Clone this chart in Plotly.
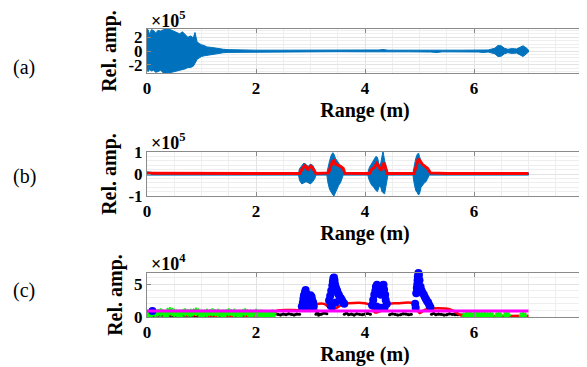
import plotly.graph_objects as go

# ---------------- data ----------------
# (a) raw signal envelope (x 1e5)
xa = [0.0, 0.02, 0.05, 0.08, 0.12, 0.16, 0.2, 0.25, 0.3, 0.35, 0.4, 0.45, 0.5, 0.55, 0.6, 0.65,
      0.7, 0.75, 0.8, 0.85, 0.88, 0.92, 0.96, 1.0, 1.05, 1.1, 1.2, 1.3, 1.4, 1.5, 1.7, 2.0, 2.5,
      3.0, 3.5, 4.0, 4.25, 4.33, 4.42, 4.8, 5.2, 5.32, 5.42, 5.8, 6.08, 6.17, 6.26, 6.38, 6.44,
      6.5, 6.56, 6.62, 6.7, 6.78, 6.84, 6.9, 6.96, 7.0]
a_up = [3.2, 3.1, 2.4, 3.1, 3.0, 2.6, 3.0, 2.9, 3.1, 3.3, 3.2, 3.0, 2.9, 2.7, 2.5, 2.8,
        2.4, 2.0, 2.2, 1.9, 2.7, 1.3, 1.1, 0.9, 0.8, 0.6, 0.5, 0.35, 0.25, 0.2, 0.15, 0.12, 0.12,
        0.1, 0.1, 0.12, 0.15, 0.22, 0.12, 0.12, 0.15, 0.22, 0.12, 0.12, 0.15, 0.22, 0.15, 0.4, 0.8,
        0.75, 0.4, 0.25, 0.35, 0.3, 0.55, 0.75, 0.45, 0.15]
a_lo = [-2.6, -3.0, -2.7, -2.9, -2.8, -3.1, -3.0, -2.8, -3.2, -3.3, -3.3, -3.1, -3.0, -2.9, -2.9, -2.7,
        -2.6, -2.4, -2.4, -2.2, -1.8, -1.2, -1.0, -0.8, -0.7, -0.6, -0.45, -0.35, -0.25, -0.2, -0.15, -0.12, -0.12,
        -0.1, -0.1, -0.12, -0.15, -0.22, -0.12, -0.12, -0.15, -0.22, -0.12, -0.12, -0.15, -0.22, -0.15, -0.4, -0.8,
        -0.75, -0.4, -0.25, -0.35, -0.3, -0.55, -0.8, -0.45, -0.15]

# (b) filtered signal envelope (x 1e5) and its smoothed magnitude (red)
xb = [0.0, 0.1, 0.3, 0.5, 0.8, 1.0, 1.3, 1.6, 2.0, 2.4, 2.78,
      2.8, 2.84, 2.88, 2.92, 2.96, 3.0, 3.04, 3.08, 3.1,
      3.3, 3.32, 3.35, 3.38, 3.41, 3.43, 3.46, 3.49, 3.52, 3.55, 3.58, 3.6,
      4.05, 4.08, 4.12, 4.16, 4.2, 4.23, 4.26, 4.29, 4.31, 4.33, 4.36, 4.39, 4.42,
      4.88, 4.9, 4.93, 4.96, 4.98, 5.0, 5.03, 5.06, 5.09, 5.12, 5.15, 5.18,
      5.5, 6.0, 6.5, 7.0]
b_up = [0.1, 0.07, 0.06, 0.07, 0.06, 0.07, 0.06, 0.06, 0.06, 0.05, 0.05,
        0.25, 0.4, 0.5, 0.42, 0.35, 0.45, 0.4, 0.2, 0.05,
        0.05, 0.3, 0.6, 0.85, 0.97, 0.9, 0.7, 0.6, 0.5, 0.4, 0.25, 0.05,
        0.05, 0.3, 0.45, 0.6, 0.8, 0.75, 0.4, 0.5, 0.8, 1.05, 0.6, 0.3, 0.05,
        0.05, 0.4, 0.7, 0.9, 0.95, 0.8, 0.55, 0.45, 0.4, 0.35, 0.2, 0.05,
        0.05, 0.05, 0.05, 0.05]
b_lo = [-0.05, -0.06, -0.05, -0.06, -0.05, -0.06, -0.05, -0.05, -0.05, -0.05, -0.05,
        -0.3, -0.45, -0.4, -0.35, -0.4, -0.45, -0.35, -0.2, -0.05,
        -0.05, -0.4, -0.7, -0.85, -0.95, -1.0, -0.8, -0.65, -0.5, -0.4, -0.2, -0.05,
        -0.05, -0.3, -0.5, -0.6, -0.75, -0.8, -0.55, -0.6, -0.8, -0.85, -0.9, -0.4, -0.05,
        -0.05, -0.4, -0.75, -0.85, -0.95, -0.9, -0.6, -0.5, -0.4, -0.35, -0.2, -0.05,
        -0.05, -0.05, -0.05, -0.05]
xr = [0.0, 0.5, 1.0, 1.5, 2.0, 2.5, 2.8, 2.85, 2.9, 2.95, 3.0, 3.03, 3.07, 3.1,
      3.33, 3.37, 3.4, 3.43, 3.46, 3.5, 3.55, 3.6, 3.63,
      4.08, 4.12, 4.17, 4.22, 4.26, 4.29, 4.32, 4.35, 4.38, 4.41,
      4.9, 4.94, 4.98, 5.01, 5.05, 5.1, 5.15, 5.2, 5.5, 6.0, 6.5, 7.0]
b_red = [0.03, 0.02, 0.03, 0.02, 0.02, 0.02, 0.02, 0.25, 0.38, 0.2, 0.35, 0.3, 0.1, 0.02,
         0.05, 0.35, 0.55, 0.6, 0.45, 0.4, 0.35, 0.25, 0.03,
         0.02, 0.2, 0.3, 0.48, 0.3, 0.15, 0.35, 0.5, 0.25, 0.02,
         0.02, 0.4, 0.7, 0.6, 0.45, 0.35, 0.25, 0.05, 0.02, 0.02, 0.02, 0.02]

# (c) detection (x 1e4)
xc_thr = [0.0, 2.3, 2.4, 2.9, 3.0, 3.1, 3.25, 3.35, 3.42, 3.5, 3.6, 3.7, 4.0, 4.1, 4.18, 4.25,
          4.35, 4.45, 4.6, 4.88, 4.94, 5.0, 5.06, 5.13, 5.55, 5.65, 5.75, 5.85, 7.0]
c_thr = [0.5, 0.5, 1.0, 1.05, 1.3, 1.9, 2.0, 1.4, 1.2, 1.5, 2.0, 2.1, 2.1, 1.8, 0.7, 0.8,
         1.2, 2.0, 2.1, 2.1, 1.5, 0.6, 0.9, 1.2, 1.2, 0.8, 0.3, 0.2, 0.2]
xc_det = [0.1,
          2.84, 2.86, 2.87, 2.88, 2.9, 2.91, 2.92, 2.94, 2.95, 2.97, 2.98, 3.0, 3.02, 3.03, 3.05, 3.06, 2.89, 2.93, 2.99, 3.04,
          3.34, 3.36, 3.38, 3.4, 3.41, 3.42, 3.43, 3.44, 3.45, 3.47, 3.49, 3.5, 3.52, 3.54, 3.56, 3.58, 3.6, 3.62, 3.37, 3.46, 3.39,
          4.13, 4.15, 4.17, 4.19, 4.2, 4.22, 4.23, 4.25, 4.27, 4.29, 4.3, 4.32, 4.34, 4.35, 4.37, 4.38, 4.4, 4.21, 4.28, 4.36,
          4.92, 4.94, 4.95, 4.96, 4.965, 4.97, 4.98, 4.99, 5.0, 5.02, 5.04, 5.06, 5.08, 5.1, 5.12, 5.14, 5.16, 5.18, 5.2, 4.93]
c_det = [0.9,
         1.6, 2.2, 2.8, 3.3, 3.8, 4.1, 3.6, 3.2, 2.7, 2.5, 3.0, 3.3, 3.1, 2.6, 2.2, 1.6, 1.5, 1.8, 1.7, 1.4,
         2.5, 3.2, 4.0, 4.8, 5.4, 5.9, 6.0, 5.6, 5.0, 4.4, 4.0, 3.6, 3.4, 3.0, 2.8, 2.5, 2.2, 2.0, 1.7, 2.2, 1.6,
         1.8, 2.6, 3.4, 4.0, 4.6, 4.9, 4.7, 4.2, 3.6, 3.4, 4.4, 4.8, 4.9, 4.2, 3.4, 2.6, 2.0, 1.6, 1.4, 1.5,
         2.0, 3.6, 4.4, 5.0, 5.6, 6.2, 6.7, 6.4, 5.6, 4.6, 4.0, 3.6, 3.4, 3.0, 2.7, 2.4, 2.2, 1.8, 1.5, 1.4]
xc_low = [0.0, 0.1, 0.2, 0.3, 0.4, 0.5, 0.6, 0.7, 0.8, 0.9, 1.0, 1.1, 1.2, 1.3, 1.4, 1.5, 1.6, 1.7,
          1.8, 1.9, 2.0, 2.1, 2.2, 2.25, 2.3, 2.35, 2.4, 2.45, 2.5, 2.55, 2.6, 2.65, 2.7, 2.75, 2.8, None,
          3.1, 3.13, 3.15, 3.2, 3.25, 3.3, None,
          3.62, 3.66, 3.7, 3.75, 3.8, 3.85, 3.9, 3.95, 4.0, 4.05, 4.1, None,
          4.45, 4.5, 4.55, 4.6, 4.65, 4.7, 4.75, 4.8, 4.85, None,
          5.22, 5.26, 5.3, 5.35, 5.4, 5.45, 5.5, 5.55, 5.6, 5.65, 5.7, 5.78]
c_low = [0.3, 0.2, 0.3, 0.25, 0.3, 0.2, 0.3, 0.25, 0.3, 0.2, 0.3, 0.25, 0.2, 0.3, 0.25, 0.3, 0.2, 0.3,
         0.25, 0.2, 0.3, 0.25, 0.3, 0.45, 0.35, 0.5, 0.4, 0.3, 0.45, 0.35, 0.5, 0.4, 0.3, 0.45, 0.4, None,
         0.4, 0.9, 0.3, 0.4, 0.6, 0.5, None,
         0.4, 0.6, 0.35, 0.45, 0.3, 0.5, 0.4, 0.35, 0.45, 0.55, 0.4, None,
         0.35, 0.5, 0.4, 0.3, 0.35, 0.5, 0.45, 0.35, 0.4, None,
         0.4, 0.55, 0.35, 0.45, 0.4, 0.3, 0.35, 0.5, 0.4, 0.35, 0.35, 0.3]
xc_noise = [0.05, 0.15, 0.25, 0.35, 0.42, 0.5, 0.6, 0.7, 0.8, 0.9, 1.0, 1.1, 1.2, 1.3, 1.4, 1.5,
            1.6, 1.7, 1.8, 1.9, 2.0, 2.1, 2.2, 2.3,
            5.85, 5.9, 5.95, 6.0, 6.05, 6.1, 6.15, 6.2, 6.3, 6.45, 6.6, 6.9]
c_noise = [0.5, 0.6, 0.7, 0.5, 0.9, 0.6, 0.5, 0.7, 0.6, 0.8, 0.5, 0.6, 0.7, 0.6, 0.5, 0.7,
           0.6, 0.5, 0.7, 0.5, 0.6, 0.5, 0.4, 0.5,
           0.2, 0.25, 0.2, 0.2, 0.25, 0.2, 0.2, 0.25, 0.2, 0.2, 0.25, 0.2]
xc_fixed = [0.0, 7.0]
c_fixed = [0.9, 0.9]

x_ticks = [0, 2, 4, 6, 8]

# ---------------- figure ----------------
W, H = 587, 367
OFF = 8  # page body margin of the html page
FONT = "Liberation Serif"
MBLUE = "#0072BD"

def px(x):
    return (x - OFF) / W

def py(y):
    return 1 - (y - OFF) / H

fig = go.Figure()

def band(x, up, lo, color, xa_, ya_):
    fig.add_trace(go.Scatter(x=x + x[::-1], y=up + lo[::-1], mode="lines", fill="toself",
                             fillcolor=color, line=dict(color=color, width=1),
                             xaxis=xa_, yaxis=ya_, showlegend=False, hoverinfo="skip"))

band(xa, a_up, a_lo, MBLUE, "x", "y")
band(xb, b_up, b_lo, MBLUE, "x2", "y2")
fig.add_trace(go.Scatter(x=xr, y=b_red, mode="lines", line=dict(color="#FF0000", width=3),
                         xaxis="x2", yaxis="y2", showlegend=False))

fig.add_trace(go.Scatter(x=xc_low, y=c_low, mode="lines+markers", line=dict(color="black", width=2.5),
                         marker=dict(color="black", size=3), xaxis="x3", yaxis="y3", showlegend=False))
fig.add_trace(go.Scatter(x=xc_thr, y=c_thr, mode="lines", line=dict(color="#FF0000", width=2.5, shape="spline"),
                         xaxis="x3", yaxis="y3", showlegend=False))
fig.add_trace(go.Scatter(x=xc_noise, y=c_noise, mode="markers",
                         marker=dict(color="#00FF00", size=7, symbol="asterisk",
                                     line=dict(color="#00FF00", width=2)),
                         xaxis="x3", yaxis="y3", showlegend=False))
fig.add_trace(go.Scatter(x=xc_det, y=c_det, mode="markers",
                         marker=dict(color="#0000FF", size=8, line=dict(width=0)),
                         xaxis="x3", yaxis="y3", showlegend=False, cliponaxis=False))
fig.add_trace(go.Scatter(x=xc_fixed, y=c_fixed, mode="lines", line=dict(color="#FF00FF", width=3),
                         xaxis="x3", yaxis="y3", showlegend=False))

xdom = [px(147), px(583)]
def ydom(top, bot):
    return [py(bot), py(top)]

tickfont = dict(family=FONT, size=17, color="black")
titlefont = dict(family=FONT, size=20, color="black")
GRID = "#e3e3e3"
MINOR = "#eeeeee"
AX = "#8a8a8a"

def xaxis(anchor):
    return dict(domain=xdom, anchor=anchor, range=[0, 8], tickvals=x_ticks,
                ticktext=[f"<b>{v}</b>" for v in x_ticks], tickfont=tickfont,
                showgrid=True, gridcolor=GRID, gridwidth=1, automargin=False,
                minor=dict(dtick=0.5, showgrid=True, gridcolor=MINOR, ticks=""),
                showline=True, linecolor=AX, linewidth=1, mirror="ticks",
                ticks="inside", ticklen=4, tickcolor=AX, zeroline=False,
                title=dict(text="<b>Range (m)</b>", font=titlefont, standoff=5))

def yaxis(anchor, dom, rng, tv, minor_dt):
    return dict(domain=dom, anchor=anchor, range=rng, tickvals=tv,
                ticktext=[f"<b>{v}</b>" for v in tv], tickfont=tickfont,
                showgrid=True, gridcolor=GRID, gridwidth=1, automargin=False,
                minor=dict(dtick=minor_dt, tick0=0, showgrid=True, gridcolor=MINOR, ticks=""),
                showline=True, linecolor=AX, linewidth=1, mirror="ticks",
                ticks="inside", ticklen=4, tickcolor=AX, zeroline=False,
                title=dict(text="<b>Rel. amp.</b>", font=titlefont, standoff=6))

fig.update_layout(
    width=W, height=H, margin=dict(l=0, r=0, t=0, b=0, autoexpand=False),
    paper_bgcolor="white", plot_bgcolor="white", showlegend=False,
    font=dict(family=FONT),
    xaxis=xaxis("y"), yaxis=yaxis("x", ydom(29, 73), [-3.2, 3.2], [-2, 0, 2], 0.5),
    xaxis2=xaxis("y2"), yaxis2=yaxis("x2", ydom(152, 196), [-1, 1], [-1, 0, 1], 0.2),
    xaxis3=xaxis("y3"), yaxis3=yaxis("x3", ydom(273, 317), [0, 6.7], [0, 5], 1),
)

ann = []
for lab, yc in [("(a)", 68), ("(b)", 176), ("(c)", 290)]:
    ann.append(dict(text=lab, x=px(24), y=py(yc), xref="paper", yref="paper",
                    showarrow=False, xanchor="center", yanchor="middle",
                    font=dict(family=FONT, size=20, color="black")))
for ex, yc in [("5", 19), ("5", 141), ("4", 262)]:
    ann.append(dict(text=f"<b>×10<sup>{ex}</sup></b>", x=px(149), y=py(yc), xref="paper", yref="paper",
                    showarrow=False, xanchor="left", yanchor="middle",
                    font=dict(family=FONT, size=18, color="black")))
fig.update_layout(annotations=ann)

fig.write_html("out.html")
